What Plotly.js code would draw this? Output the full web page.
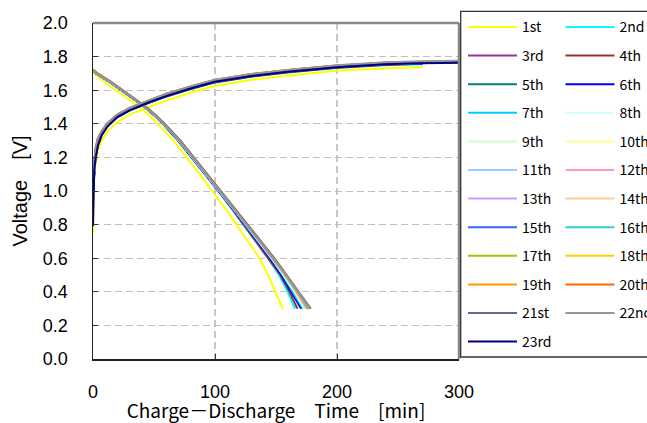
<!DOCTYPE html>
<html><head><meta charset="utf-8">
<script src="https://cdn.plot.ly/plotly-3.0.1.min.js"></script>
<style>html,body{margin:0;padding:0;background:#fff}</style>
</head><body><div id="chart" style="width:647px;height:423px"></div>
<script>
const cycleNames = ["1st","2nd","3rd","4th","5th","6th","7th","8th","9th","10th","11th","12th","13th","14th","15th","16th","17th","18th","19th","20th","21st","22nd","23rd"];
const cycleColors = ["#FFFF00","#00FFFF","#993399","#993333","#008080","#0000FF","#00CCFF","#CCFFFF","#CCFFCC","#FFFF99","#99CCFF","#FF99CC","#CC99FF","#FFCC99","#3366FF","#33CCCC","#99CC00","#FFCC00","#FF9900","#FF6600","#666699","#969696","#000080"];

// charge: common time grid [min], voltage per cycle [V]
const chargeTime = [0, 0.5, 1, 2, 4, 7, 12, 20, 30, 45, 60, 80, 100, 130, 160, 200, 240, 270, 300];
const charge01 = [0.75, 1.00, 1.09, 1.16, 1.24, 1.30, 1.355, 1.41, 1.455, 1.497, 1.537, 1.585, 1.625, 1.662, 1.688, 1.716, 1.73, 1.736, null];
const charge02 = [0.98, 1.07, 1.13, 1.20, 1.275, 1.335, 1.39, 1.44, 1.478, 1.522, 1.561, 1.606, 1.645, 1.68, 1.705, 1.732, 1.749, 1.755, null];
const charge03 = [1.00, 1.07, 1.13, 1.20, 1.275, 1.335, 1.39, 1.442, 1.481, 1.525, 1.564, 1.609, 1.648, 1.683, 1.708, 1.735, 1.752, 1.757, null];
const charge04 = [0.99, 1.06, 1.12, 1.19, 1.27, 1.33, 1.387, 1.44, 1.48, 1.524, 1.563, 1.608, 1.647, 1.682, 1.707, 1.734, 1.751, 1.757, null];
const charge05 = [1.00, 1.07, 1.13, 1.20, 1.275, 1.335, 1.39, 1.443, 1.482, 1.526, 1.566, 1.611, 1.65, 1.685, 1.71, 1.737, 1.754, 1.759, null];
const charge06 = [1.01, 1.08, 1.14, 1.21, 1.28, 1.34, 1.392, 1.444, 1.483, 1.527, 1.567, 1.612, 1.651, 1.686, 1.711, 1.738, 1.755, 1.76, null];
const charge07 = [1.02, 1.08, 1.14, 1.21, 1.28, 1.34, 1.393, 1.445, 1.484, 1.528, 1.568, 1.613, 1.652, 1.687, 1.712, 1.739, 1.756, 1.761, null];
const charge08 = [1.02, 1.09, 1.15, 1.21, 1.285, 1.342, 1.395, 1.446, 1.485, 1.529, 1.569, 1.614, 1.653, 1.688, 1.713, 1.74, 1.757, 1.762, null];
const charge09 = [1.03, 1.09, 1.15, 1.22, 1.285, 1.343, 1.396, 1.447, 1.486, 1.53, 1.57, 1.615, 1.654, 1.689, 1.714, 1.741, 1.758, 1.763, null];
const charge10 = [1.03, 1.09, 1.15, 1.22, 1.29, 1.344, 1.397, 1.448, 1.487, 1.531, 1.571, 1.616, 1.655, 1.69, 1.715, 1.742, 1.759, 1.764, null];
const charge11 = [1.04, 1.10, 1.16, 1.22, 1.29, 1.345, 1.398, 1.449, 1.488, 1.532, 1.572, 1.617, 1.656, 1.691, 1.716, 1.743, 1.758, 1.763, null];
const charge12 = [1.04, 1.10, 1.16, 1.23, 1.29, 1.346, 1.398, 1.449, 1.488, 1.532, 1.572, 1.616, 1.655, 1.69, 1.714, 1.741, 1.758, 1.763, 1.764];
const charge13 = [1.05, 1.10, 1.16, 1.23, 1.295, 1.347, 1.399, 1.45, 1.489, 1.533, 1.573, 1.617, 1.656, 1.691, 1.715, 1.742, 1.759, 1.764, 1.765];
const charge14 = [1.05, 1.11, 1.17, 1.23, 1.295, 1.348, 1.399, 1.45, 1.489, 1.533, 1.573, 1.618, 1.657, 1.692, 1.716, 1.743, 1.76, 1.765, 1.766];
const charge15 = [1.05, 1.11, 1.17, 1.235, 1.3, 1.349, 1.4, 1.451, 1.49, 1.534, 1.574, 1.618, 1.657, 1.692, 1.717, 1.744, 1.76, 1.765, 1.766];
const charge16 = [1.06, 1.11, 1.17, 1.235, 1.3, 1.35, 1.401, 1.452, 1.491, 1.535, 1.575, 1.619, 1.658, 1.693, 1.717, 1.744, 1.761, 1.766, 1.767];
const charge17 = [1.06, 1.12, 1.18, 1.24, 1.305, 1.351, 1.402, 1.453, 1.492, 1.536, 1.576, 1.62, 1.659, 1.694, 1.718, 1.745, 1.762, 1.767, 1.768];
const charge18 = [1.06, 1.12, 1.18, 1.24, 1.305, 1.352, 1.403, 1.454, 1.493, 1.537, 1.577, 1.621, 1.66, 1.695, 1.719, 1.746, 1.763, 1.768, 1.769];
const charge19 = [1.07, 1.12, 1.18, 1.245, 1.31, 1.353, 1.404, 1.455, 1.494, 1.538, 1.578, 1.622, 1.661, 1.696, 1.72, 1.747, 1.764, 1.769, 1.77];
const charge20 = [1.07, 1.13, 1.19, 1.245, 1.31, 1.354, 1.404, 1.455, 1.494, 1.538, 1.578, 1.622, 1.661, 1.696, 1.72, 1.747, 1.764, 1.769, 1.77];
const charge21 = [1.07, 1.13, 1.19, 1.25, 1.31, 1.355, 1.403, 1.453, 1.492, 1.536, 1.576, 1.62, 1.659, 1.694, 1.718, 1.745, 1.762, 1.767, 1.768];
const charge22 = [1.08, 1.13, 1.19, 1.25, 1.315, 1.356, 1.405, 1.456, 1.495, 1.539, 1.579, 1.623, 1.662, 1.697, 1.721, 1.748, 1.767, 1.773, 1.776];
const charge23 = [0.79, 1.05, 1.12, 1.19, 1.27, 1.33, 1.385, 1.44, 1.48, 1.525, 1.565, 1.61, 1.65, 1.685, 1.71, 1.737, 1.755, 1.761, 1.763];

// discharge: common voltage levels [V], time per cycle [min]
const dischargeVoltage = [1.72, 1.70, 1.65, 1.60, 1.55, 1.50, 1.45, 1.40, 1.30, 1.20, 1.10, 1.00, 0.90, 0.80, 0.70, 0.60, 0.50, 0.40, 0.30];
const discharge01 = [0, 1, 9, 19, 29, 38, 46, 53, 66, 77, 87.5, 97.5, 108, 117.5, 127, 136.5, 143.5, 149.5, 155.5];
const discharge02 = [0, 2.5, 13, 23, 33, 42, 50, 57, 69.5, 80.5, 92, 102.5, 113, 123, 133.5, 143.5, 152.5, 159.5, 165.5];
const discharge03 = [0, 2.5, 13.5, 23.5, 33.5, 42.5, 50.5, 57.5, 70, 81, 92.5, 103.5, 114.5, 124.5, 135, 145.5, 155, 163.5, 171.5];
const discharge04 = [0, 2.5, 13.5, 23.5, 33.5, 42.5, 50.5, 57.5, 70, 81, 92.5, 103, 113.5, 123.5, 134, 144, 153.5, 161, 167.5];
const discharge05 = [0, 3, 13.5, 23.5, 33.5, 42.5, 50.5, 57.5, 70, 81, 92.5, 103.5, 114.5, 124.5, 135, 145.5, 155, 163, 171];
const discharge06 = [0, 3, 13.5, 23.5, 33.5, 42.5, 50.5, 57.5, 70, 81, 92.5, 103.5, 114, 124.5, 135, 145, 154.5, 162.5, 170.5];
const discharge07 = [0, 3, 14, 24, 34, 43, 51, 58, 70.5, 81.5, 93, 104, 115, 125, 135.5, 146, 155.5, 164, 172];
const discharge08 = [0, 3, 14, 24, 34, 43, 51, 58, 70.5, 81.5, 93, 104, 115, 125.5, 136, 146.5, 156, 165, 173];
const discharge09 = [0, 3, 14, 24, 34, 43, 51, 58, 70.5, 81.5, 93, 104, 115, 125.5, 136, 146.5, 156.5, 165.5, 174];
const discharge10 = [0, 3, 14, 24, 34, 43, 51, 58, 71, 82, 93.5, 104.5, 115.5, 126, 136.5, 147, 157, 166, 174.5];
const discharge11 = [0, 3, 14, 24, 34, 43, 51, 58, 71, 82, 93.5, 104.5, 115.5, 126, 136.5, 147, 157, 166.5, 175];
const discharge12 = [0, 3, 14, 24, 34, 43, 51, 58, 71, 82, 93.5, 104.5, 115.5, 126, 136.5, 147, 157.5, 166.5, 175.5];
const discharge13 = [0, 3, 14, 24, 34, 43, 51, 58, 71, 82, 93.5, 104.5, 115.5, 126, 137, 147.5, 157.5, 167, 176];
const discharge14 = [0, 3, 14, 24, 34, 43, 51, 58, 71, 82, 93.5, 104.5, 115.5, 126, 137, 147.5, 157.5, 167, 176];
const discharge15 = [0, 3, 14, 24, 34, 43, 51, 58, 71, 82, 93.5, 104.5, 115.5, 126, 137, 147.5, 158, 167.5, 176.5];
const discharge16 = [0, 3, 14, 24, 34, 43, 51, 58, 71, 82, 93.5, 104.5, 115.5, 126, 137, 148, 158, 167.5, 177];
const discharge17 = [0, 3.5, 14.5, 24.5, 34.5, 43.5, 51.5, 58.5, 71.5, 82.5, 94, 105, 116, 126.5, 137.5, 148, 158, 167.5, 177];
const discharge18 = [0, 3.5, 14.5, 24.5, 34.5, 43.5, 51.5, 58.5, 71.5, 82.5, 94, 105, 116, 126.5, 137.5, 148, 158, 168, 177.5];
const discharge19 = [0, 3.5, 14.5, 24.5, 34.5, 43.5, 51.5, 58.5, 71.5, 82.5, 94, 105, 116, 126.5, 137.5, 148.5, 158.5, 168, 177.5];
const discharge20 = [0, 3.5, 14.5, 24.5, 34.5, 43.5, 51.5, 58.5, 71.5, 82.5, 94, 105, 116, 126.5, 137.5, 148.5, 158.5, 168.5, 178];
const discharge21 = [0, 3.5, 14.5, 24.5, 34.5, 43.5, 51.5, 58.5, 71.5, 82.5, 94, 105, 116, 126.5, 137.5, 148.5, 158.5, 168.5, 178.5];
const discharge22 = [0, 3, 14, 24, 34, 43, 51, 58, 71, 82, 93.5, 104.5, 115.5, 126, 137, 148, 158, 168, 178];

const xTicks = [0, 100, 200, 300];
const yTicks = [0, 0.2, 0.4, 0.6, 0.8, 1.0, 1.2, 1.4, 1.6, 1.8, 2.0];

const chargeSeries = [charge01,charge02,charge03,charge04,charge05,charge06,charge07,charge08,charge09,charge10,charge11,charge12,charge13,charge14,charge15,charge16,charge17,charge18,charge19,charge20,charge21,charge22,charge23];
const dischargeSeries = [discharge01,discharge02,discharge03,discharge04,discharge05,discharge06,discharge07,discharge08,discharge09,discharge10,discharge11,discharge12,discharge13,discharge14,discharge15,discharge16,discharge17,discharge18,discharge19,discharge20,discharge21,discharge22];

const traces = [];
cycleNames.forEach((name, i) => {
  const leg = (i % 2 === 0) ? 'legend' : 'legend2';
  traces.push({
    x: chargeTime, y: chargeSeries[i], type: 'scatter', mode: 'lines', name: name,
    legend: leg, legendgroup: 'g' + i, showlegend: true,
    line: {color: cycleColors[i], width: 2}, connectgaps: false, hoverinfo: 'skip'
  });
  if (dischargeSeries[i]) {
    traces.push({
      x: dischargeSeries[i], y: dischargeVoltage, type: 'scatter', mode: 'lines', name: name,
      legend: leg, legendgroup: 'g' + i, showlegend: false,
      line: {color: cycleColors[i], width: 2}, hoverinfo: 'skip'
    });
  }
});

const L = 92.5, R = 187.7, T = 23.3, B = 63.7;
const W = 647 - L - R, H = 423 - T - B;
const px2x = p => (p - L) / W;
const py2y = p => (423 - B - p) / H;

const tickFont = {family: 'Liberation Sans, Arial, sans-serif', size: 18, color: '#000'};
const legendFont = {family: 'Noto Sans CJK JP, sans-serif', size: 14, color: '#000'};

const layout = {
  width: 647, height: 423,
  margin: {l: L, r: R, t: T, b: B, pad: 0, autoexpand: false},
  paper_bgcolor: '#fff', plot_bgcolor: '#fff',
  showlegend: true,
  xaxis: {
    range: [0, 300], tickvals: xTicks, ticktext: xTicks.map(String),
    ticks: 'inside', ticklen: 5, tickcolor: '#333', tickwidth: 1,
    showline: true, linecolor: '#222', linewidth: 1.5,
    showgrid: true, gridcolor: '#c8c8c8', gridwidth: 1.5, griddash: '7px,4px',
    zeroline: false, tickfont: tickFont, ticklabelstandoff: 16,
    title: {text: 'Charge－Discharge　Time　[min]', font: {family: 'Noto Sans CJK JP, sans-serif', size: 19, color: '#000'}, standoff: 6}
  },
  yaxis: {
    range: [0, 2], tickvals: yTicks, ticktext: yTicks.map(v => v.toFixed(1)),
    ticks: 'inside', ticklen: 5, tickcolor: '#333', tickwidth: 1,
    showline: true, linecolor: '#222', linewidth: 1.5,
    showgrid: true, gridcolor: '#c0c0c0', gridwidth: 1, griddash: '7px,4px',
    zeroline: false, tickfont: tickFont, ticklabelstandoff: 20,
    title: {text: 'Voltage　[V]', font: {family: 'Liberation Sans, Arial, sans-serif', size: 20, color: '#000'}, standoff: 10}
  },
  legend: {
    x: px2x(463.3), y: py2y(11.7), xanchor: 'left', yanchor: 'top',
    orientation: 'v', bgcolor: 'rgba(0,0,0,0)', borderwidth: 0, maxheight: 400,
    font: legendFont, itemwidth: 49, tracegroupgap: 7.4, traceorder: 'grouped'
  },
  legend2: {
    x: px2x(561), y: py2y(11.7), xanchor: 'left', yanchor: 'top',
    orientation: 'v', bgcolor: 'rgba(0,0,0,0)', borderwidth: 0, maxheight: 400,
    font: legendFont, itemwidth: 49, tracegroupgap: 7.4, traceorder: 'grouped'
  },
  shapes: [
    {type: 'line', xref: 'paper', yref: 'paper', x0: 0, x1: 1, y0: 1, y1: 1, line: {color: '#888', width: 2.5}, layer: 'above'},
    {type: 'line', xref: 'paper', yref: 'paper', x0: 1, x1: 1, y0: 0, y1: 1, line: {color: '#888', width: 2.5}, layer: 'above'},
    {type: 'rect', xref: 'paper', yref: 'paper', x0: px2x(461), x1: px2x(700), y0: py2y(357.3), y1: py2y(11.7), line: {color: '#333', width: 1.3}, fillcolor: 'rgba(0,0,0,0)', layer: 'above'}
  ]
};

Plotly.newPlot('chart', traces, layout, {displayModeBar: false, staticPlot: true});
</script>
</body></html>
